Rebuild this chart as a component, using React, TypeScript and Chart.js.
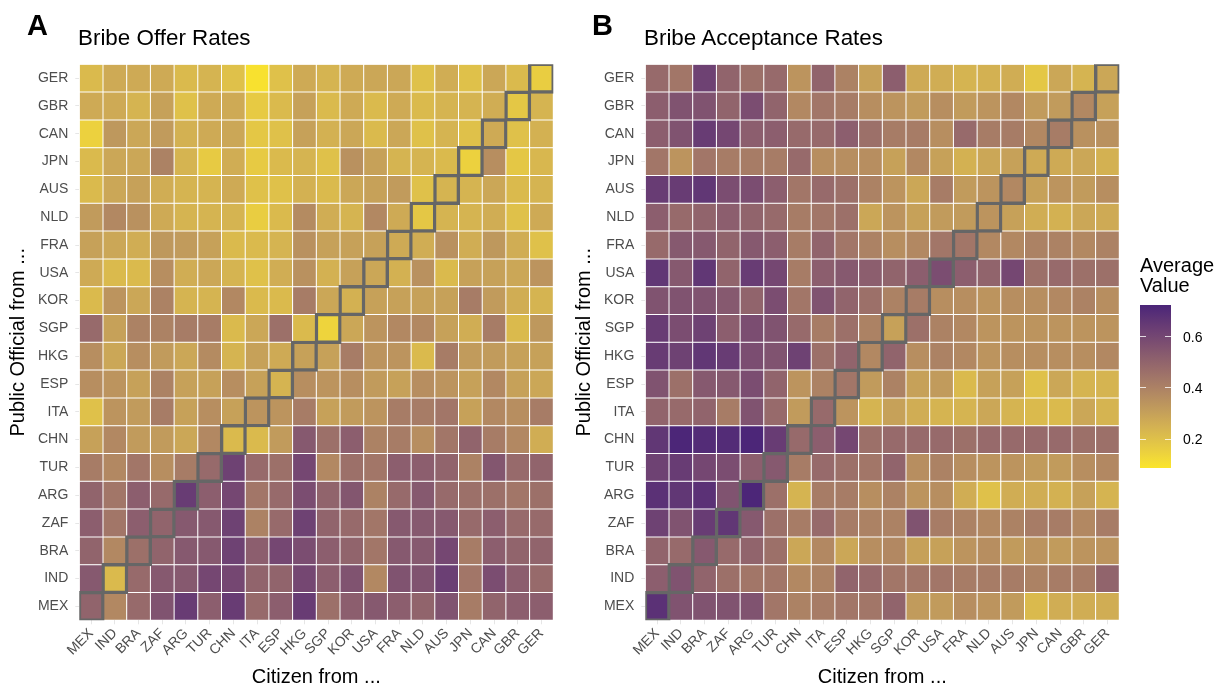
import React, { useEffect, useRef } from 'react';
import { Chart, registerables } from 'chart.js';

Chart.register(...registerables);

// Columns left -> right, and rows bottom -> top
const countries = ['MEX', 'IND', 'BRA', 'ZAF', 'ARG', 'TUR', 'CHN', 'ITA', 'ESP', 'HKG', 'SGP', 'KOR', 'USA', 'FRA', 'NLD', 'AUS', 'JPN', 'CAN', 'GBR', 'GER'];

// Rows listed top -> bottom (GER ... MEX), columns MEX ... GER
const offerRates: number[][] = [
  [0.22, 0.27, 0.27, 0.27, 0.22, 0.24, 0.20, 0.10, 0.20, 0.27, 0.24, 0.27, 0.28, 0.28, 0.20, 0.26, 0.20, 0.28, 0.22, 0.16],
  [0.27, 0.27, 0.24, 0.30, 0.20, 0.27, 0.27, 0.17, 0.22, 0.30, 0.22, 0.27, 0.22, 0.27, 0.22, 0.24, 0.24, 0.26, 0.18, 0.24],
  [0.15, 0.33, 0.28, 0.32, 0.25, 0.27, 0.28, 0.18, 0.20, 0.30, 0.25, 0.28, 0.22, 0.28, 0.20, 0.24, 0.20, 0.27, 0.20, 0.25],
  [0.22, 0.28, 0.28, 0.40, 0.24, 0.17, 0.26, 0.17, 0.22, 0.24, 0.20, 0.35, 0.30, 0.24, 0.24, 0.22, 0.15, 0.36, 0.18, 0.23],
  [0.22, 0.28, 0.30, 0.26, 0.24, 0.24, 0.27, 0.20, 0.20, 0.25, 0.22, 0.28, 0.30, 0.32, 0.20, 0.24, 0.24, 0.28, 0.22, 0.24],
  [0.32, 0.38, 0.35, 0.27, 0.24, 0.24, 0.24, 0.16, 0.22, 0.37, 0.26, 0.24, 0.38, 0.27, 0.18, 0.24, 0.24, 0.26, 0.20, 0.27],
  [0.30, 0.28, 0.26, 0.33, 0.32, 0.30, 0.22, 0.22, 0.24, 0.35, 0.30, 0.30, 0.30, 0.27, 0.26, 0.35, 0.26, 0.33, 0.26, 0.20],
  [0.27, 0.22, 0.22, 0.36, 0.26, 0.28, 0.24, 0.20, 0.26, 0.35, 0.25, 0.30, 0.28, 0.25, 0.35, 0.22, 0.30, 0.30, 0.28, 0.34],
  [0.22, 0.34, 0.28, 0.40, 0.24, 0.24, 0.38, 0.22, 0.22, 0.42, 0.28, 0.25, 0.30, 0.30, 0.30, 0.30, 0.42, 0.32, 0.26, 0.24],
  [0.48, 0.30, 0.40, 0.40, 0.42, 0.42, 0.22, 0.28, 0.46, 0.22, 0.14, 0.28, 0.34, 0.38, 0.38, 0.30, 0.26, 0.42, 0.22, 0.33],
  [0.36, 0.28, 0.36, 0.32, 0.28, 0.37, 0.24, 0.30, 0.27, 0.30, 0.30, 0.42, 0.34, 0.34, 0.22, 0.42, 0.32, 0.32, 0.30, 0.30],
  [0.36, 0.34, 0.30, 0.40, 0.30, 0.30, 0.36, 0.30, 0.24, 0.36, 0.34, 0.36, 0.32, 0.30, 0.36, 0.34, 0.30, 0.38, 0.30, 0.28],
  [0.20, 0.34, 0.32, 0.42, 0.30, 0.36, 0.30, 0.34, 0.34, 0.42, 0.30, 0.32, 0.34, 0.42, 0.42, 0.44, 0.30, 0.38, 0.36, 0.42],
  [0.30, 0.38, 0.32, 0.32, 0.28, 0.38, 0.22, 0.22, 0.32, 0.54, 0.46, 0.52, 0.40, 0.42, 0.36, 0.44, 0.50, 0.42, 0.38, 0.26],
  [0.42, 0.38, 0.44, 0.36, 0.42, 0.48, 0.62, 0.48, 0.46, 0.60, 0.38, 0.46, 0.44, 0.52, 0.52, 0.50, 0.40, 0.55, 0.48, 0.50],
  [0.50, 0.44, 0.52, 0.48, 0.64, 0.52, 0.60, 0.44, 0.48, 0.58, 0.50, 0.55, 0.40, 0.48, 0.54, 0.48, 0.46, 0.46, 0.44, 0.46],
  [0.52, 0.44, 0.52, 0.50, 0.54, 0.54, 0.62, 0.40, 0.48, 0.62, 0.50, 0.48, 0.44, 0.54, 0.54, 0.54, 0.48, 0.52, 0.48, 0.48],
  [0.50, 0.38, 0.46, 0.50, 0.54, 0.54, 0.62, 0.52, 0.60, 0.58, 0.52, 0.50, 0.44, 0.54, 0.54, 0.60, 0.42, 0.52, 0.50, 0.50],
  [0.54, 0.22, 0.48, 0.54, 0.54, 0.60, 0.60, 0.50, 0.50, 0.60, 0.52, 0.56, 0.38, 0.56, 0.56, 0.63, 0.44, 0.58, 0.52, 0.48],
  [0.50, 0.38, 0.48, 0.56, 0.64, 0.52, 0.64, 0.48, 0.52, 0.64, 0.46, 0.52, 0.54, 0.52, 0.50, 0.56, 0.42, 0.50, 0.52, 0.52],
];

const acceptanceRates: number[][] = [
  [0.48, 0.44, 0.62, 0.50, 0.46, 0.48, 0.34, 0.50, 0.40, 0.30, 0.52, 0.27, 0.26, 0.24, 0.25, 0.26, 0.18, 0.28, 0.24, 0.28],
  [0.52, 0.56, 0.56, 0.50, 0.58, 0.50, 0.38, 0.44, 0.42, 0.36, 0.34, 0.32, 0.36, 0.32, 0.34, 0.38, 0.32, 0.32, 0.38, 0.30],
  [0.52, 0.56, 0.64, 0.60, 0.52, 0.52, 0.48, 0.48, 0.52, 0.46, 0.42, 0.42, 0.36, 0.48, 0.42, 0.42, 0.38, 0.42, 0.35, 0.35],
  [0.44, 0.34, 0.44, 0.42, 0.42, 0.42, 0.48, 0.36, 0.36, 0.36, 0.30, 0.38, 0.30, 0.25, 0.28, 0.30, 0.27, 0.27, 0.28, 0.25],
  [0.64, 0.64, 0.66, 0.58, 0.58, 0.52, 0.44, 0.48, 0.46, 0.40, 0.34, 0.28, 0.42, 0.32, 0.34, 0.38, 0.30, 0.34, 0.32, 0.36],
  [0.52, 0.48, 0.50, 0.52, 0.50, 0.48, 0.42, 0.44, 0.46, 0.28, 0.34, 0.30, 0.32, 0.32, 0.34, 0.30, 0.26, 0.25, 0.28, 0.27],
  [0.48, 0.54, 0.54, 0.50, 0.54, 0.52, 0.42, 0.50, 0.44, 0.40, 0.36, 0.38, 0.44, 0.44, 0.38, 0.38, 0.40, 0.40, 0.38, 0.40],
  [0.66, 0.54, 0.66, 0.50, 0.64, 0.60, 0.42, 0.52, 0.54, 0.52, 0.50, 0.52, 0.58, 0.52, 0.50, 0.60, 0.46, 0.48, 0.46, 0.46],
  [0.56, 0.56, 0.56, 0.54, 0.50, 0.58, 0.44, 0.56, 0.50, 0.46, 0.40, 0.42, 0.36, 0.36, 0.34, 0.36, 0.36, 0.38, 0.40, 0.36],
  [0.64, 0.58, 0.62, 0.52, 0.58, 0.56, 0.48, 0.42, 0.46, 0.40, 0.30, 0.46, 0.40, 0.38, 0.34, 0.34, 0.34, 0.34, 0.34, 0.34],
  [0.64, 0.62, 0.66, 0.64, 0.58, 0.56, 0.62, 0.46, 0.50, 0.38, 0.50, 0.36, 0.40, 0.38, 0.34, 0.36, 0.36, 0.36, 0.36, 0.38],
  [0.56, 0.46, 0.54, 0.54, 0.58, 0.50, 0.34, 0.40, 0.44, 0.32, 0.40, 0.30, 0.32, 0.22, 0.30, 0.30, 0.20, 0.28, 0.24, 0.24],
  [0.50, 0.48, 0.50, 0.42, 0.56, 0.48, 0.32, 0.48, 0.34, 0.24, 0.30, 0.26, 0.24, 0.24, 0.28, 0.24, 0.22, 0.22, 0.28, 0.24],
  [0.66, 0.72, 0.70, 0.70, 0.72, 0.64, 0.48, 0.52, 0.60, 0.46, 0.48, 0.48, 0.48, 0.46, 0.48, 0.48, 0.48, 0.48, 0.46, 0.46],
  [0.62, 0.64, 0.60, 0.58, 0.52, 0.54, 0.42, 0.48, 0.46, 0.44, 0.50, 0.36, 0.40, 0.36, 0.34, 0.34, 0.32, 0.32, 0.36, 0.38],
  [0.68, 0.66, 0.68, 0.56, 0.72, 0.46, 0.24, 0.42, 0.42, 0.36, 0.40, 0.34, 0.36, 0.26, 0.20, 0.26, 0.26, 0.25, 0.30, 0.24],
  [0.62, 0.56, 0.64, 0.66, 0.54, 0.46, 0.42, 0.48, 0.42, 0.40, 0.40, 0.56, 0.42, 0.40, 0.38, 0.40, 0.42, 0.42, 0.38, 0.42],
  [0.50, 0.48, 0.54, 0.48, 0.50, 0.46, 0.28, 0.38, 0.28, 0.36, 0.38, 0.30, 0.30, 0.34, 0.36, 0.32, 0.34, 0.32, 0.34, 0.34],
  [0.52, 0.56, 0.50, 0.46, 0.44, 0.44, 0.38, 0.40, 0.50, 0.48, 0.44, 0.44, 0.44, 0.42, 0.42, 0.42, 0.40, 0.42, 0.42, 0.50],
  [0.68, 0.56, 0.56, 0.56, 0.56, 0.44, 0.40, 0.42, 0.44, 0.44, 0.50, 0.32, 0.32, 0.36, 0.34, 0.32, 0.22, 0.26, 0.26, 0.26],
];

const legendTicks = [0.2, 0.4, 0.6];
const valueRange = [0.088, 0.724];

const FONT = "'Liberation Sans', Arial, Helvetica, sans-serif";
const LOW_COLOR = '#fbe52a';
const HIGH_COLOR = '#4a2578';

// ---------- colour scale (Lab interpolation) ----------
function hexToRgb(h: string) {
  const n = parseInt(h.slice(1), 16);
  return [(n >> 16) & 255, (n >> 8) & 255, n & 255];
}
function toLin(c: number) {
  const v = c / 255;
  return v <= 0.04045 ? v / 12.92 : Math.pow((v + 0.055) / 1.055, 2.4);
}
function fromLin(c: number) {
  const v = c <= 0.0031308 ? 12.92 * c : 1.055 * Math.pow(c, 1 / 2.4) - 0.055;
  return Math.round(Math.max(0, Math.min(1, v)) * 255);
}
function rgbToLab(rgb: number[]) {
  const R = toLin(rgb[0]), G = toLin(rgb[1]), B = toLin(rgb[2]);
  const X = (0.4124 * R + 0.3576 * G + 0.1805 * B) / 0.95047;
  const Y = 0.2126 * R + 0.7152 * G + 0.0722 * B;
  const Z = (0.0193 * R + 0.1192 * G + 0.9505 * B) / 1.08883;
  const f = (t: number) => (t > 0.008856 ? Math.cbrt(t) : 7.787 * t + 16 / 116);
  const fx = f(X), fy = f(Y), fz = f(Z);
  return [116 * fy - 16, 500 * (fx - fy), 200 * (fy - fz)];
}
function labToRgb(lab: number[]) {
  const fy = (lab[0] + 16) / 116;
  const fx = fy + lab[1] / 500;
  const fz = fy - lab[2] / 200;
  const inv = (t: number) => (t * t * t > 0.008856 ? t * t * t : (t - 16 / 116) / 7.787);
  const X = 0.95047 * inv(fx), Y = inv(fy), Z = 1.08883 * inv(fz);
  const R = 3.2406 * X - 1.5372 * Y - 0.4986 * Z;
  const G = -0.9689 * X + 1.8758 * Y + 0.0415 * Z;
  const B = 0.0557 * X - 0.204 * Y + 1.057 * Z;
  return [fromLin(R), fromLin(G), fromLin(B)];
}
const LOW_LAB = rgbToLab(hexToRgb(LOW_COLOR));
const HIGH_LAB = rgbToLab(hexToRgb(HIGH_COLOR));
function colorFor(v: number) {
  const t = Math.max(0, Math.min(1, (v - valueRange[0]) / (valueRange[1] - valueRange[0])));
  const lab = LOW_LAB.map((l, i) => l + (HIGH_LAB[i] - l) * t);
  const [r, g, b] = labToRgb(lab);
  return `rgb(${r},${g},${b})`;
}

// ---------- heatmap chart ----------
function buildConfig(values: number[][], padRight: number): any {
  const n = countries.length;
  const datasets: any[] = [];
  // outline of the diagonal (same country) cells, drawn on top
  datasets.push({
    label: 'diagonal',
    data: countries.map((_, c) => [c, c + 1]),
    backgroundColor: 'rgba(0,0,0,0)',
    borderColor: '#666666',
    borderWidth: 0.2,
    borderSkipped: false,
    inflateAmount: 1.6,
    grouped: false,
    barPercentage: 1,
    categoryPercentage: 1,
    order: 0,
  });
  for (let r = 0; r < n; r++) {
    const rowVals = values[n - 1 - r];
    datasets.push({
      label: countries[r],
      data: rowVals.map(() => [r, r + 1]),
      backgroundColor: rowVals.map(colorFor),
      borderColor: 'rgba(255,255,255,0.85)',
      borderWidth: 0.5,
      borderSkipped: false,
      inflateAmount: 0,
      grouped: false,
      barPercentage: 1,
      categoryPercentage: 1,
      order: 1,
    });
  }
  const tickFont = { family: FONT, size: 14 };
  const titleFont = { family: FONT, size: 20 };
  return {
    type: 'bar',
    data: { labels: countries, datasets },
    options: {
      animation: false,
      responsive: false,
      devicePixelRatio: 1,
      events: [],
      layout: { padding: { left: 0, top: 64.3, right: padRight, bottom: 0 } },
      plugins: { legend: { display: false }, tooltip: { enabled: false }, title: { display: false } },
      scales: {
        x: {
          type: 'category',
          offset: true,
          grid: { display: true, offset: false, drawOnChartArea: false, drawTicks: true, tickLength: 4, color: '#e6e6e6' },
          border: { display: false },
          ticks: { color: '#4d4d4d', font: tickFont, minRotation: 45, maxRotation: 45, autoSkip: false, padding: 1 },
          title: { display: true, text: 'Citizen from ...', color: '#000000', font: titleFont, padding: { top: 0, bottom: 1 } },
          afterFit: (s: any) => {
            s.height = 69.7;
            s.paddingLeft = 0;
            s.paddingRight = 0;
          },
        },
        y: {
          type: 'linear',
          min: 0,
          max: n,
          grid: { display: true, drawOnChartArea: false, drawTicks: true, tickLength: 4, color: '#e6e6e6' },
          border: { display: false },
          afterBuildTicks: (s: any) => {
            s.ticks = countries.map((_, i) => ({ value: i + 0.5 }));
          },
          ticks: {
            color: '#4d4d4d',
            font: tickFont,
            autoSkip: false,
            padding: 7,
            callback: (v: any) => countries[Math.floor(Number(v))],
          },
          title: { display: true, text: 'Public Official from ...', color: '#000000', font: titleFont, padding: { top: 6, bottom: 0 } },
          afterFit: (s: any) => {
            s.width = 79.3;
            s.paddingTop = 0;
            s.paddingBottom = 0;
          },
        },
      },
    },
  };
}

function Heatmap({ values, left, width, padRight }: { values: number[][]; left: number; width: number; padRight: number }) {
  const ref = useRef<HTMLCanvasElement>(null);
  useEffect(() => {
    const chart = new Chart(ref.current as HTMLCanvasElement, buildConfig(values, padRight));
    return () => chart.destroy();
  }, [values, padRight]);
  return (
    <canvas
      ref={ref}
      width={width}
      height={690}
      style={{ position: 'absolute', left, top: 0, width, height: 690, display: 'block' }}
    />
  );
}

function ColorBar() {
  const top = 305;
  const bottom = 467.7;
  const h = bottom - top;
  const stops: string[] = [];
  for (let i = 0; i <= 20; i++) {
    const v = valueRange[0] + ((valueRange[1] - valueRange[0]) * i) / 20;
    stops.push(`${colorFor(v)} ${(i / 20) * 100}%`);
  }
  const yFor = (v: number) => bottom - ((v - valueRange[0]) / (valueRange[1] - valueRange[0])) * h;
  return (
    <>
      <div
        style={{
          position: 'absolute', left: 1140, top: 255, fontFamily: FONT, fontSize: 20,
          lineHeight: '20px', color: '#000', whiteSpace: 'nowrap',
        }}
      >
        Average
        <br />
        Value
      </div>
      <div
        style={{
          position: 'absolute', left: 1140, top, width: 31, height: h,
          background: `linear-gradient(to top, ${stops.join(', ')})`,
        }}
      />
      {legendTicks.map((t) => (
        <React.Fragment key={t}>
          <div style={{ position: 'absolute', left: 1140, top: yFor(t) - 0.5, width: 6, height: 1, background: 'rgba(255,255,255,0.8)' }} />
          <div style={{ position: 'absolute', left: 1165, top: yFor(t) - 0.5, width: 6, height: 1, background: 'rgba(255,255,255,0.8)' }} />
          <div
            style={{
              position: 'absolute', left: 1183, top: yFor(t) - 9, height: 18, lineHeight: '18px',
              fontFamily: FONT, fontSize: 14, color: '#000',
            }}
          >
            {t.toFixed(1)}
          </div>
        </React.Fragment>
      ))}
    </>
  );
}

function Label({ text, left, top, size, bold }: { text: string; left: number; top: number; size: number; bold?: boolean }) {
  return (
    <div
      style={{
        position: 'absolute', left, top, fontFamily: FONT, fontSize: size, lineHeight: 1,
        fontWeight: bold ? 'bold' : 'normal', color: '#000', whiteSpace: 'nowrap',
      }}
    >
      {text}
    </div>
  );
}

export default function App() {
  return (
    <div style={{ position: 'fixed', left: 0, top: 0, width: 1226, height: 690, background: '#ffffff', overflow: 'hidden' }}>
      <Heatmap values={offerRates} left={0} width={566} padRight={12.7} />
      <Heatmap values={acceptanceRates} left={566} width={660} padRight={106.7} />
      <Label text="A" left={27} top={11} size={29} bold />
      <Label text="Bribe Offer Rates" left={78} top={27} size={22.4} />
      <Label text="B" left={592} top={11} size={29} bold />
      <Label text="Bribe Acceptance Rates" left={644} top={27} size={22.4} />
      <ColorBar />
    </div>
  );
}
